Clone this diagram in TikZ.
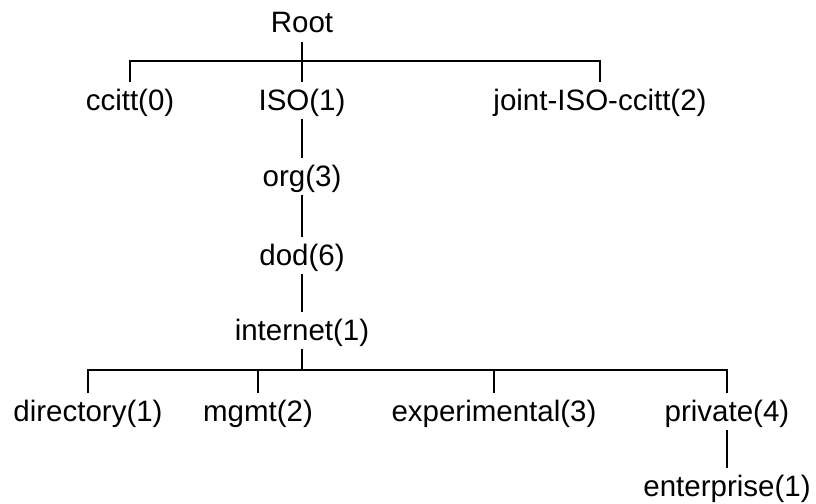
\documentclass[tikz,border=0pt]{standalone}
\usepackage{fontspec}
\setmainfont{Liberation Sans}
\begin{document}
\begin{tikzpicture}[x=1pt,y=-1pt,
  lbl/.style={anchor=base, font=\fontsize{29.5}{34}\selectfont,
    text height=24pt, text depth=5pt, inner xsep=0pt, inner ysep=3.5pt},
  conn/.style={line width=2.6pt, line cap=butt}]
\useasboundingbox (0,0) rectangle (816,503);
% level nodes
\node[lbl] (root) at (302,33) {Root};
\node[lbl] (ccitt) at (130,110) {ccitt(0)};
\node[lbl] (iso) at (302,110) {ISO(1)};
\node[lbl] (joint) at (600,110) {joint-ISO-ccitt(2)};
\node[lbl] (org) at (302,186) {org(3)};
\node[lbl] (dod) at (302,265) {dod(6)};
\node[lbl] (internet) at (302,340) {internet(1)};
\node[lbl] (directory) at (88,421) {directory(1)};
\node[lbl] (mgmt) at (258,421) {mgmt(2)};
\node[lbl] (experimental) at (494,421) {experimental(3)};
\node[lbl] (private) at (727,421) {private(4)};
\node[lbl] (enterprise) at (727,496) {enterprise(1)};
% bus coordinates
\coordinate (bus1) at (0,61);
\coordinate (bus2) at (0,370);
% connectors
\draw[conn] (root.south) -- (iso.north);
\draw[conn] (ccitt.north) -- (ccitt.north |- bus1) -- (joint.north |- bus1) -- (joint.north);
\draw[conn] (iso.south) -- (org.north);
\draw[conn] (org.south) -- (dod.north);
\draw[conn] (dod.south) -- (internet.north);
\draw[conn] (internet.south) -- (internet.south |- bus2);
\draw[conn] (directory.north) -- (directory.north |- bus2) -- (private.north |- bus2) -- (private.north);
\draw[conn] (mgmt.north) -- (mgmt.north |- bus2);
\draw[conn] (experimental.north) -- (experimental.north |- bus2);
\draw[conn] (private.south) -- (enterprise.north);
\end{tikzpicture}
\end{document}
